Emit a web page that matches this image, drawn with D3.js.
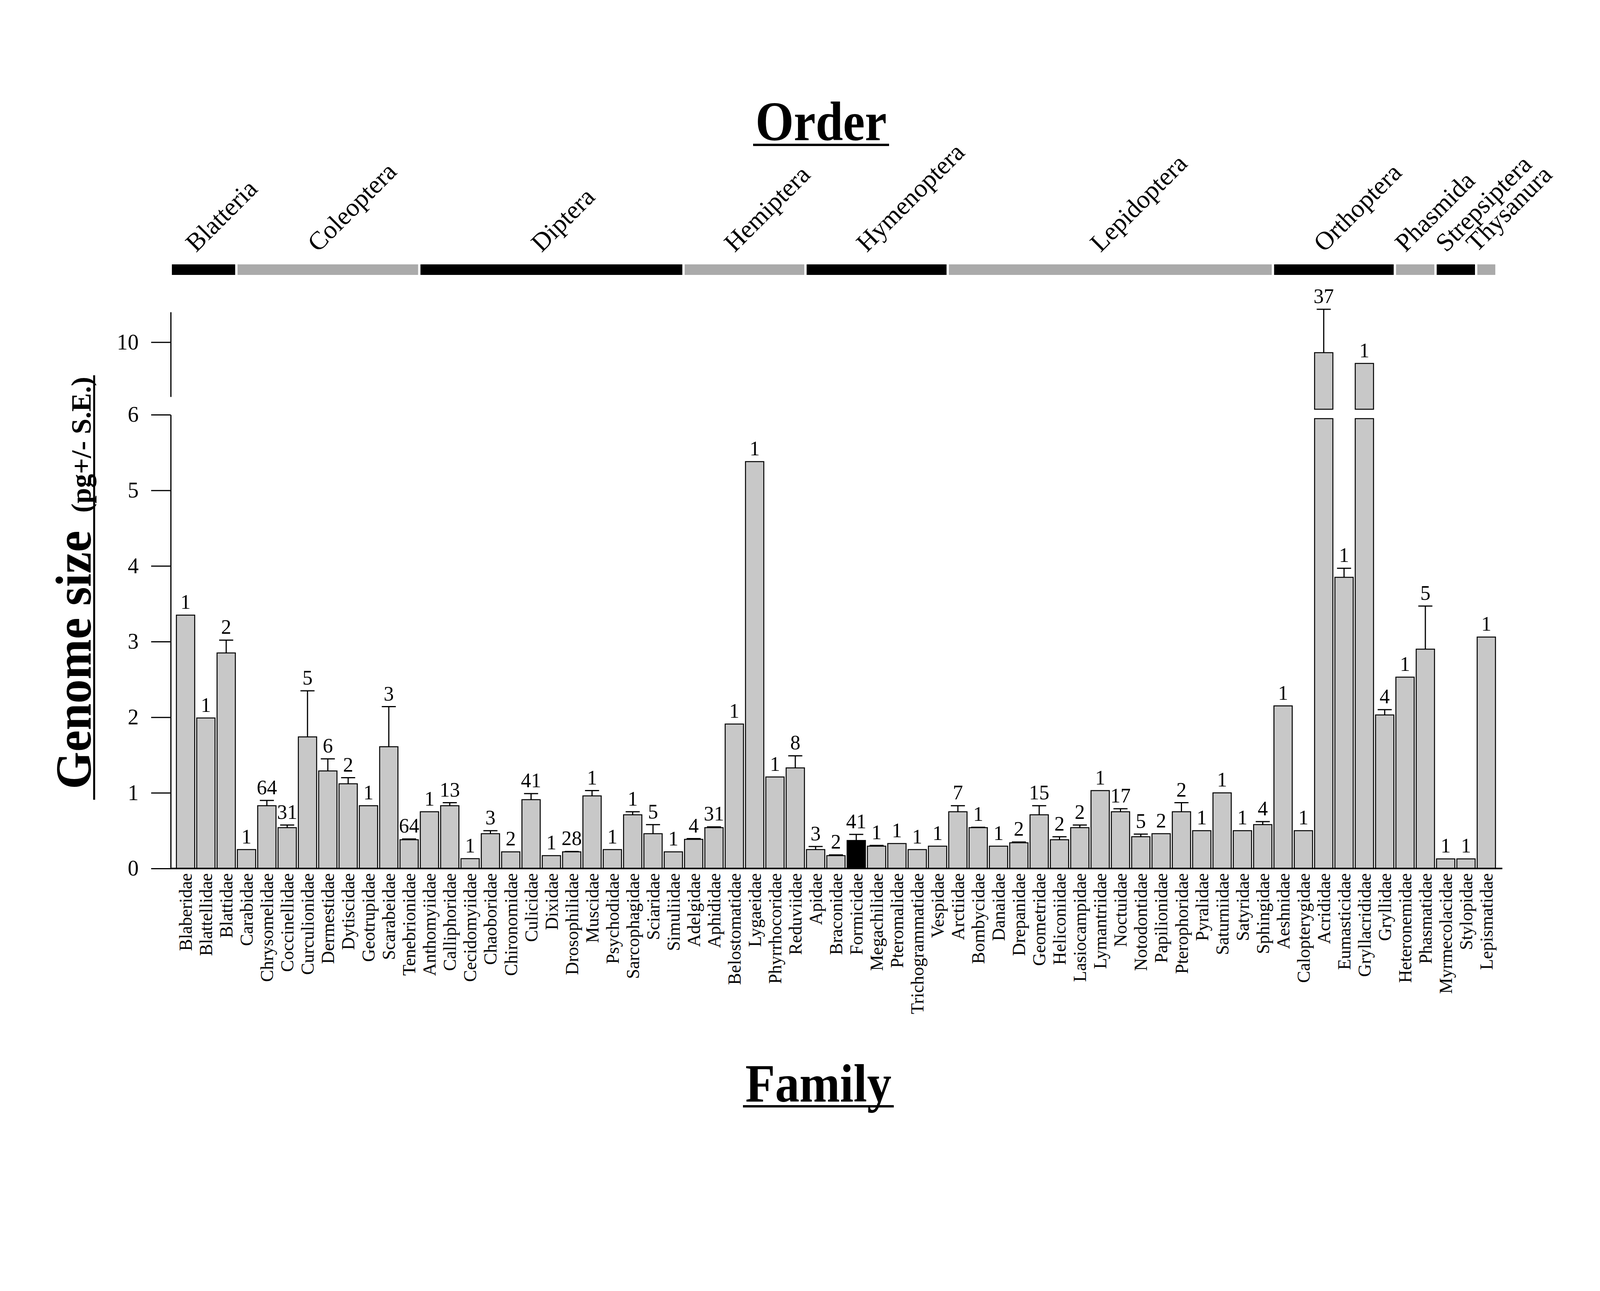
<!DOCTYPE html>
<html>
<head>
<meta charset="utf-8">
<script src="https://cdn.jsdelivr.net/npm/d3@7"></script>
<style>
  body { margin: 0; background: #fff; }
  text { font-family: "Liberation Serif", "Times New Roman", serif; fill: #000; }
</style>
</head>
<body>
<div id="visualization"></div>
<script>
// Families, in the order they are plotted
var families = ["Blaberidae", "Blattellidae", "Blattidae", "Carabidae", "Chrysomelidae",
  "Coccinellidae", "Curculionidae", "Dermestidae", "Dytiscidae", "Geotrupidae", "Scarabeidae",
  "Tenebrionidae", "Anthomyiidae", "Calliphoridae", "Cecidomyiidae", "Chaoboridae",
  "Chironomidae", "Culicidae", "Dixidae", "Drosophilidae", "Muscidae", "Psychodidae",
  "Sarcophagidae", "Sciaridae", "Simuliidae", "Adelgidae", "Aphididae", "Belostomatidae",
  "Lygaeidae", "Phyrrhocoridae", "Reduviidae", "Apidae", "Braconidae", "Formicidae",
  "Megachilidae", "Pteromalidae", "Trichogrammatidae", "Vespidae", "Arctiidae", "Bombycidae",
  "Danaidae", "Drepanidae", "Geometridae", "Heliconiidae", "Lasiocampidae", "Lymantriidae",
  "Noctuidae", "Notodontidae", "Papilionidae", "Pterophoridae", "Pyralidae", "Saturniidae",
  "Satyridae", "Sphingidae", "Aeshnidae", "Calopterygidae", "Acrididae", "Eumasticidae",
  "Gryllacrididae", "Gryllidae", "Heteronemidae", "Phasmatidae", "Myrmecolacidae",
  "Stylopidae", "Lepismatidae"];

// Orders and how many families each one spans
var orders = ["Blatteria", "Coleoptera", "Diptera", "Hemiptera", "Hymenoptera",
  "Lepidoptera", "Orthoptera", "Phasmida", "Strepsiptera", "Thysanura"];
var orderCounts = [3, 9, 13, 6, 7, 16, 6, 2, 2, 1];

// Mean genome size (pg)
var genomeSize = [3.35, 1.99, 2.85, 0.25, 0.83, 0.54, 1.74, 1.29, 1.12, 0.83, 1.61,
  0.38, 0.75, 0.83, 0.13, 0.46, 0.22, 0.91, 0.17, 0.22, 0.96, 0.25,
  0.71, 0.46, 0.22, 0.385, 0.54, 1.91, 5.38, 1.21, 1.33, 0.25, 0.17, 0.37,
  0.295, 0.33, 0.25, 0.295, 0.75, 0.54, 0.295, 0.34, 0.71, 0.38, 0.54, 1.03,
  0.75, 0.42, 0.46, 0.75, 0.50, 1.00, 0.50, 0.58, 2.15, 0.50, 9.27, 3.85,
  8.52, 2.03, 2.53, 2.90, 0.127, 0.127, 3.06];

// Standard error (0 = no bar drawn)
var genomeSE = [0, 0, 0.17, 0, 0.07, 0.035, 0.61, 0.16, 0.08, 0, 0.53,
  0.01, 0, 0.04, 0, 0.04, 0, 0.08, 0, 0.005, 0.07, 0,
  0.04, 0.12, 0, 0.01, 0.01, 0, 0, 0, 0.16, 0.04, 0.01, 0.08,
  0.01, 0, 0, 0, 0.08, 0.005, 0, 0.01, 0.12, 0.04, 0.035, 0,
  0.04, 0.035, 0, 0.12, 0, 0, 0, 0.04, 0, 0, 3.02, 0.12,
  0, 0.07, 0, 0.57, 0, 0, 0];

// Number of species per family
var sampleN = [1, 1, 2, 1, 64, 31, 5, 6, 2, 1, 3,
  64, 1, 13, 1, 3, 2, 41, 1, 28, 1, 1,
  1, 5, 1, 4, 31, 1, 1, 1, 8, 3, 2, 41,
  1, 1, 1, 1, 7, 1, 1, 2, 15, 2, 2, 1,
  17, 5, 2, 2, 1, 1, 1, 4, 1, 1, 37, 1,
  1, 4, 1, 5, 1, 1, 1];

var highlightFamily = "Formicidae";
var lowerTicks = [0, 1, 2, 3, 4, 5, 6];
var upperTicks = [10];

// Set up the page
var width = 4153, height = 3306;
var svg = d3.select("#visualization")
  .append("svg")
  .attr("width", width)
  .attr("height", height)
  .style("background", "#fff");

var axisX = 437;
var baseY = 2224;
var cutY = 1062;

// Scales: one band scale, and a broken y axis (0-6 below, 6.2-12.1 above)
var xScale = d3.scaleBand()
  .domain(families)
  .range([449, 3831])
  .paddingInner(0.1)
  .paddingOuter(0.05);
var yScale = d3.scaleLinear().domain([0, 6]).range([baseY, cutY]);
var yUpper = d3.scaleLinear().domain([6.2, 12.1]).range([1016, 799]);

var rows = families.map(function (f, i) {
  return { family: f, value: genomeSize[i], se: genomeSE[i], n: sampleN[i] };
});

// Lower y axis
var gLow = svg.append("g")
  .attr("transform", "translate(" + axisX + ",0)")
  .call(d3.axisLeft(yScale).tickValues(lowerTicks).tickFormat(d3.format("d"))
    .tickSize(50).tickSizeOuter(0).tickPadding(32));
// Upper y axis
var gUp = svg.append("g")
  .attr("transform", "translate(" + axisX + ",0)")
  .call(d3.axisLeft(yUpper).tickValues(upperTicks).tickFormat(d3.format("d"))
    .tickSize(50).tickSizeOuter(0).tickPadding(32));
[gLow, gUp].forEach(function (g) {
  g.select(".domain").attr("stroke", "#000").attr("stroke-width", 3);
  g.selectAll(".tick line").attr("stroke", "#000").attr("stroke-width", 3);
  g.selectAll(".tick text")
    .style("font-family", "'Liberation Serif', serif")
    .style("font-size", "56px")
    .attr("fill", "#000");
});

// Family labels along the bottom
var gx = svg.append("g")
  .attr("transform", "translate(0," + baseY + ")")
  .call(d3.axisBottom(xScale).tickSize(0));
gx.select(".domain").remove();
gx.selectAll(".tick text")
  .attr("transform", "rotate(-90)")
  .attr("text-anchor", "end")
  .attr("x", -12)
  .attr("y", 16)
  .attr("dy", 0)
  .style("font-family", "'Liberation Serif', serif")
  .style("font-size", "46px")
  .attr("fill", "#000");

// Bars
var barFill = function (d) { return d.family === highlightFamily ? "#000" : "#c8c8c8"; };
var bars = svg.append("g");
rows.forEach(function (d) {
  var x = xScale(d.family);
  if (d.value > 6) {
    // broken bar: lower piece up to the cut, upper piece on the upper scale
    bars.append("rect")
      .attr("x", x).attr("y", cutY + 10)
      .attr("width", xScale.bandwidth()).attr("height", baseY - cutY - 10)
      .attr("fill", barFill(d)).attr("stroke", "#000").attr("stroke-width", 2.5);
    bars.append("rect")
      .attr("x", x).attr("y", yUpper(d.value))
      .attr("width", xScale.bandwidth()).attr("height", (cutY - 14) - yUpper(d.value))
      .attr("fill", barFill(d)).attr("stroke", "#000").attr("stroke-width", 2.5);
  } else {
    bars.append("rect")
      .attr("x", x).attr("y", yScale(d.value))
      .attr("width", xScale.bandwidth()).attr("height", baseY - yScale(d.value))
      .attr("fill", barFill(d)).attr("stroke", "#000").attr("stroke-width", 2.5);
  }
});

// Error bars and sample sizes
rows.forEach(function (d) {
  var sc = d.value > 6 ? yUpper : yScale;
  var cx = xScale(d.family) + xScale.bandwidth() / 2;
  var top = sc(d.value);
  if (d.se > 0) {
    var yErr = sc(d.value + d.se);
    svg.append("line")
      .attr("x1", cx).attr("x2", cx).attr("y1", top).attr("y2", yErr)
      .attr("stroke", "#000").attr("stroke-width", 3);
    svg.append("line")
      .attr("x1", cx - 18).attr("x2", cx + 18).attr("y1", yErr).attr("y2", yErr)
      .attr("stroke", "#000").attr("stroke-width", 3);
    top = yErr;
  }
  svg.append("text")
    .attr("x", cx)
    .attr("y", top - 16)
    .attr("text-anchor", "middle")
    .style("font-size", "52px")
    .text(d.n);
});

// Baseline
svg.append("line")
  .attr("x1", axisX).attr("x2", 3846)
  .attr("y1", baseY).attr("y2", baseY)
  .attr("stroke", "#000").attr("stroke-width", 4);

// Order strip with labels
var step = xScale.step();
var gap = step - xScale.bandwidth();
var start = 0;
orders.forEach(function (o, i) {
  var first = families[start];
  var last = families[start + orderCounts[i] - 1];
  var x0 = i === 0 ? axisX + 3 : xScale(first) - gap / 2 + 3;
  var x1 = xScale(last) + xScale.bandwidth() + gap / 2 - 3;
  svg.append("rect")
    .attr("x", x0).attr("y", 677)
    .attr("width", x1 - x0).attr("height", 27)
    .attr("fill", i % 2 === 0 ? "#000" : "#aaaaaa");
  var cx = (xScale(first) + xScale(last) + xScale.bandwidth()) / 2;
  svg.append("text")
    .attr("transform", "translate(" + (cx - 25) + ",648) rotate(-45)")
    .style("font-size", "66px")
    .text(o);
  start += orderCounts[i];
});

// Titles
function underlinedTitle(label, cx, y, size, len) {
  svg.append("text")
    .attr("x", cx).attr("y", y)
    .attr("text-anchor", "middle")
    .attr("textLength", len)
    .attr("lengthAdjust", "spacingAndGlyphs")
    .style("font-size", size + "px")
    .style("font-weight", "bold")
    .text(label);
  svg.append("line")
    .attr("x1", cx - len / 2 - 6).attr("x2", cx + len / 2 + 6)
    .attr("y1", y + 12).attr("y2", y + 12)
    .attr("stroke", "#000").attr("stroke-width", 6);
}
underlinedTitle("Order", 2102, 359, 142, 336);
underlinedTitle("Family", 2095, 2821, 138, 374);

// Y axis title
svg.append("text")
  .attr("transform", "translate(232,2021) rotate(-90)")
  .attr("textLength", 662)
  .attr("lengthAdjust", "spacingAndGlyphs")
  .style("font-size", "130px")
  .style("font-weight", "bold")
  .text("Genome size");
svg.append("text")
  .attr("transform", "translate(232,1313) rotate(-90)")
  .attr("textLength", 348)
  .attr("lengthAdjust", "spacingAndGlyphs")
  .style("font-size", "72px")
  .style("font-weight", "bold")
  .text("(pg+/- S.E.)");
svg.append("line")
  .attr("x1", 241).attr("x2", 241)
  .attr("y1", 2048).attr("y2", 961)
  .attr("stroke", "#000").attr("stroke-width", 5);
</script>
</body>
</html>
